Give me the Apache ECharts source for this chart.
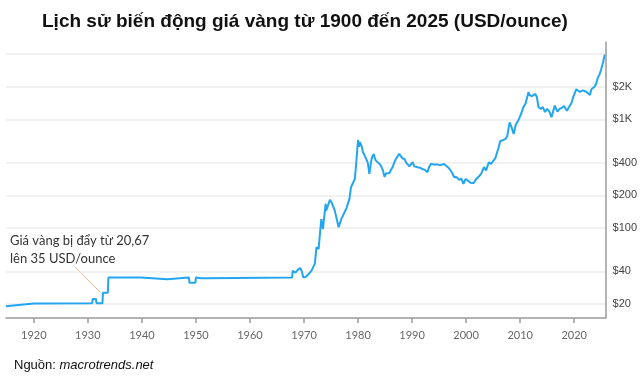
<!DOCTYPE html>
<html>
<head>
<meta charset="utf-8">
<script src="https://cdn.jsdelivr.net/npm/echarts@6/dist/echarts.min.js"></script>
<style>
html, body { margin: 0; padding: 0; background: #fff; }
#chartBox { width: 640px; height: 377px; }
</style>
</head>
<body>
<div id="chartBox"></div>
<script>
// gia vang (USD/ounce), doc tu hinh
const years = [
  1914.85, 1920.0, 1930.8, 1930.9, 1931.5, 1931.6, 1932.7, 1932.8, 1933.7, 1933.8,
  1939.8, 1939.9, 1944.7, 1944.8, 1948.7, 1948.8, 1949.9, 1950.0, 1951.0, 1952.0,
  1952.1, 1967.8, 1967.9, 1968.4, 1968.9, 1969.3, 1969.6, 1969.85, 1970.3, 1970.9,
  1971.4, 1972.0, 1972.3, 1972.7, 1973.2, 1973.5, 1974.0, 1974.1, 1974.8, 1975.1,
  1975.7, 1976.4, 1976.9, 1977.8, 1978.4, 1978.7, 1979.4, 1979.7, 1980.0, 1980.1,
  1980.2, 1980.35, 1980.5, 1980.7, 1980.9, 1981.2, 1981.5, 1981.8, 1982.1, 1982.4,
  1982.6, 1982.9, 1983.1, 1983.3, 1983.6, 1984.0, 1984.3, 1984.6, 1984.9, 1985.2,
  1985.5, 1985.8, 1986.1, 1986.4, 1986.7, 1987.0, 1987.3, 1987.6, 1987.9, 1988.2,
  1988.6, 1988.9, 1989.2, 1989.5, 1989.8, 1990.1, 1990.4, 1990.7, 1991.0, 1991.4,
  1991.9, 1992.3, 1992.85, 1993.1, 1993.45, 1993.8, 1994.2, 1994.7, 1995.2, 1995.9,
  1996.2, 1996.8, 1997.3, 1997.8, 1998.2, 1998.7, 1999.1, 1999.5, 1999.9, 2000.3,
  2000.8, 2001.1, 2001.4, 2001.8, 2002.4, 2002.8, 2003.3, 2003.7, 2004.2, 2004.6,
  2005.1, 2005.4, 2005.7, 2006.0, 2006.3, 2006.6, 2007.25, 2007.6, 2008.05, 2008.4,
  2008.8, 2009.2, 2009.7, 2010.1, 2010.6, 2011.0, 2011.55, 2011.7, 2011.9, 2012.2,
  2012.5, 2012.8, 2013.1, 2013.4, 2013.8, 2014.2, 2014.6, 2015.0, 2015.4, 2015.8,
  2016.4, 2016.9, 2017.3, 2017.7, 2018.1, 2018.65, 2019.0, 2019.25, 2019.5, 2019.8,
  2020.4, 2020.7, 2021.05, 2021.65, 2022.3, 2022.6, 2022.9, 2023.2, 2023.8, 2024.1,
  2024.4, 2024.7, 2025.0, 2025.35, 2025.65
];
const prices = [
  19.1, 20.3, 20.4, 22.3, 22.3, 20.4, 20.4, 25.5, 25.5, 35.1,
  35.1, 33.8, 33.8, 35.1, 35.1, 31.5, 31.5, 35.1, 34.6, 34.6,
  35.2, 35.2, 40.5, 39.0, 41.5, 43.0, 40.0, 35.3, 35.5, 38.0,
  40.6, 47.1, 66.5, 64.4, 121, 98, 167, 145, 182, 173,
  145, 102, 121, 150, 185, 238, 283, 418, 650, 600,
  560, 620, 640, 560, 500, 470, 433, 400, 315, 404,
  450, 482, 440, 418, 410, 389, 370, 340, 297, 320,
  327, 320, 345, 364, 400, 433, 450, 482, 470, 440,
  433, 400, 389, 370, 380, 404, 370, 385, 364, 360,
  350, 345, 327, 360, 389, 375, 385, 385, 380, 389,
  390, 357, 330, 294, 296, 278, 285, 256, 283, 275,
  262, 265, 260, 280, 300, 318, 364, 340, 404, 390,
  420, 440, 450, 550, 630, 620, 660, 700, 939, 850,
  736, 900, 990, 1100, 1298, 1400, 1790, 1680, 1750, 1640,
  1600, 1720, 1600, 1300, 1250, 1300, 1170, 1250, 1180, 1050,
  1340, 1180, 1250, 1280, 1330, 1200, 1290, 1300, 1420, 1600,
  1900, 1830, 1790, 1850, 1790, 1760, 1680, 1900, 2010, 2150,
  2440, 2600, 2900, 3360, 3950
];
const yearTicks = [1920, 1930, 1940, 1950, 1960, 1970, 1980, 1990, 2000, 2010, 2020];
const priceTicks = [20, 40, 100, 200, 400, 1000, 2000, 4000];
const priceLabels = [20, 40, 100, 200, 400, 1000, 2000];

const chartDom = document.getElementById("chartBox");
const myChart = echarts.init(chartDom);
const option = {
  animation: false,
  title: {
    text: "Lịch sử biến động giá vàng từ 1900 đến 2025 (USD/ounce)",
    left: 37,
    top: 7,
    textStyle: {
      fontFamily: "Liberation Sans, Arial, sans-serif",
      fontSize: 19,
      fontWeight: "bold",
      color: "#111",
    },
  },
  grid: {
    left: 6,
    right: 31,
    top: 42,
    bottom: 59,
  },
  xAxis: {
    type: "value",
    min: 1914.85,
    max: 2025.8,
    axisLine: { show: true, lineStyle: { color: "#9a9a9a", width: 1.5 } },
    axisTick: {
      show: true,
      length: 5,
      customValues: yearTicks,
      lineStyle: { color: "#9a9a9a", width: 1.5 },
    },
    axisLabel: {
      customValues: yearTicks,
      color: "#666",
      fontFamily: "Lato, sans-serif",
      fontSize: 11,
      margin: 12,
      formatter: (v) => String(v),
    },
    splitLine: { show: false },
  },
  yAxis: {
    type: "log",
    position: "right",
    min: 14.9,
    max: 5160,
    axisLine: { show: true, lineStyle: { color: "#9a9a9a", width: 1.5 } },
    axisTick: { show: false, customValues: priceTicks },
    axisLabel: {
      customValues: priceLabels,
      color: "#444",
      fontFamily: "Liberation Sans, Arial, sans-serif",
      fontSize: 11,
      margin: 7,
      padding: [0, 0, 8, 0],
      formatter: (v) => (v >= 1000 ? "$" + v / 1000 + "K" : "$" + v),
    },
    splitLine: { show: true, lineStyle: { color: "#ececec", width: 1.5 } },
  },
  graphic: [
    {
      type: "text",
      left: 10,
      top: 232,
      style: {
        text: "Giá vàng bị đẩy từ 20,67\nlên 35 USD/ounce",
        font: "13px Lato, sans-serif",
        lineHeight: 18,
        fill: "#333",
      },
    },
    {
      type: "line",
      shape: { x1: 75, y1: 267, x2: 100, y2: 292 },
      style: { stroke: "#f5b389", lineWidth: 1 },
    },
    {
      type: "text",
      left: 14,
      top: 359,
      style: {
        text: "{a|Nguồn: }{b|macrotrends.net}",
        rich: {
          a: { fontFamily: "Liberation Sans, Arial, sans-serif", fontSize: 13, fill: "#111" },
          b: { fontFamily: "Liberation Sans, Arial, sans-serif", fontSize: 13, fontStyle: "italic", fill: "#111" },
        },
      },
    },
  ],
  series: [
    {
      name: "Giá vàng",
      type: "line",
      symbol: "none",
      lineStyle: { color: "#22a6f2", width: 2 },
      data: years.map((y, i) => [y, prices[i]]),
    },
  ],
};
myChart.setOption(option);
</script>
</body>
</html>
